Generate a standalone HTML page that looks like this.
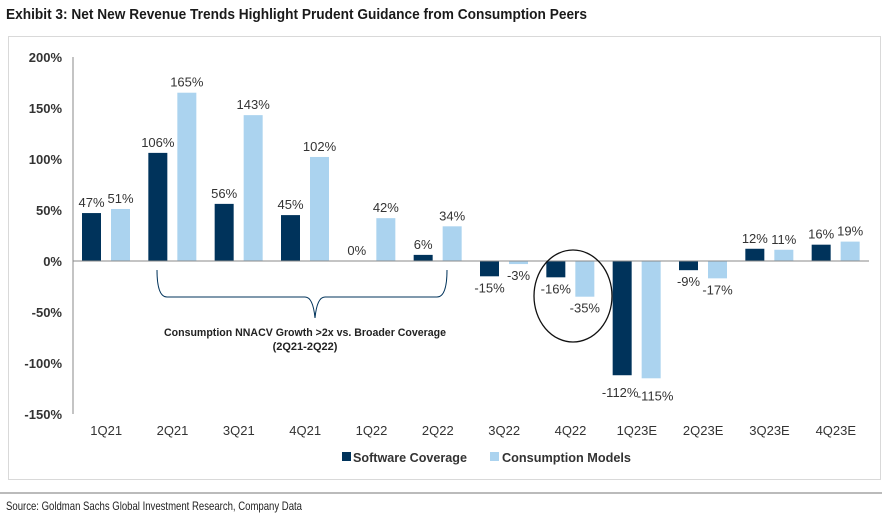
<!DOCTYPE html>
<html><head><meta charset="utf-8"><style>
body{margin:0;background:#fff;width:891px;height:518px;overflow:hidden;font-family:"Liberation Sans",Arial,sans-serif}
</style></head><body>
<svg width="891" height="518" xmlns="http://www.w3.org/2000/svg" id="chart">
<text x="6" y="19" font-family="Liberation Sans, sans-serif" font-weight="bold" font-size="15" fill="#1a1a1a" textLength="581" lengthAdjust="spacingAndGlyphs">Exhibit 3: Net New Revenue Trends Highlight Prudent Guidance from Consumption Peers</text>
<rect x="8.5" y="36.5" width="872" height="443" fill="none" stroke="#d9d9d9"/>
<line x1="0" y1="493" x2="882" y2="493" stroke="#777"/>
<text x="6" y="510" font-family="Liberation Sans, sans-serif" font-size="12" fill="#222" textLength="296" lengthAdjust="spacingAndGlyphs">Source: Goldman Sachs Global Investment Research, Company Data</text>
<g id="plot"></g>
<path d="M157,270 Q157,297 167,297 L305,297 Q313,297 315,318 Q317,297 325,297 L437,297 Q447,297 447,270" fill="none" stroke="#00335b" stroke-width="1"/>
<text x="305" y="336" text-anchor="middle" font-size="11" font-weight="bold" fill="#222" textLength="282" lengthAdjust="spacingAndGlyphs">Consumption NNACV Growth &gt;2x vs. Broader Coverage</text>
<text x="305" y="350" text-anchor="middle" font-size="11" font-weight="bold" fill="#222">(2Q21-2Q22)</text>
<ellipse cx="573" cy="296" rx="39" ry="46" fill="none" stroke="#111" stroke-width="1.3"/>
<rect x="342" y="452" width="9" height="9" fill="#00335b"/>
<text x="353" y="462" font-size="13" font-weight="bold" fill="#333" textLength="114" lengthAdjust="spacingAndGlyphs">Software Coverage</text>
<rect x="490" y="452" width="9" height="9" fill="#abd3ef"/>
<text x="502" y="462" font-size="13" font-weight="bold" fill="#333" textLength="129" lengthAdjust="spacingAndGlyphs">Consumption Models</text>
</svg>
<script>
const categories=["1Q21","2Q21","3Q21","4Q21","1Q22","2Q22","3Q22","4Q22","1Q23E","2Q23E","3Q23E","4Q23E"];
const software=[47,106,56,45,0,6,-15,-16,-112,-9,12,16];
const consumption=[51,165,143,102,42,34,-3,-35,-115,-17,11,19];
const yTicks=[200,150,100,50,0,-50,-100,-150];
const NS="http://www.w3.org/2000/svg";
const g=document.getElementById('plot');
const x0=73,x1=869,y0v=261,pxPer=1.02;
const step=(x1-x0)/categories.length;
function y(v){return y0v-v*pxPer;}
function mk(t,a,txt){const e=document.createElementNS(NS,t);for(const k in a)e.setAttribute(k,a[k]);if(txt!==undefined)e.textContent=txt;g.appendChild(e);return e;}
yTicks.forEach(v=>{
 const e=mk('text',{x:62,y:y(v)+5,'text-anchor':'end','font-size':13,'font-weight':'bold',fill:'#333'},v+'%');
 
 
});
const ax=mk('line',{x1:x0,y1:y(200),x2:x0,y2:y(-150),stroke:'#888'});


function bar(i,v,off,color,name){
 const bx=x0+i*step+off,w=19;
 const top=Math.min(y(v),y(0)),h=Math.abs(y(v)-y(0));
 const r=mk('rect',{x:bx,y:top,width:w,height:Math.max(h,0),fill:color});
 
 
 let ly=v>=0?y(v)-6:y(v)+16;
 let lx=bx+w/2;
 if(v<-100){ly+=6;lx+=(off<20?-2:4);}
 const t=mk('text',{x:lx,y:ly,'text-anchor':'middle','font-size':13,fill:'#333'},v+'%');
 
 
}
categories.forEach((c,i)=>{
 bar(i,software[i],9,'#00335b','software');
 bar(i,consumption[i],38,'#abd3ef','consumption');
 const t=mk('text',{x:x0+i*step+step/2,y:435,'text-anchor':'middle','font-size':13,fill:'#333'},c);
 
 
});
const z=mk('line',{x1:x0,y1:y(0),x2:x1,y2:y(0),stroke:'#888'});


</script>
</body></html>
